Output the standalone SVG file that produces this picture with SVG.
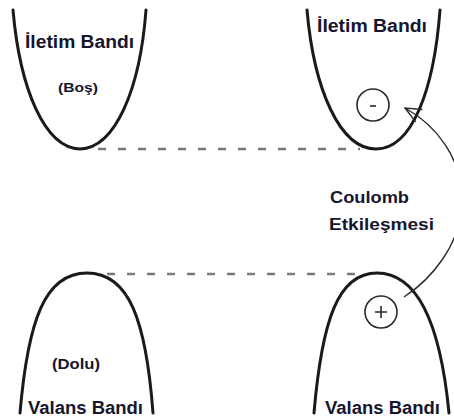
<svg xmlns="http://www.w3.org/2000/svg" width="454" height="419" viewBox="0 0 454 419">
<defs>
<style>
.band{fill:none;stroke:#1a1a1a;stroke-width:3;stroke-linecap:round}
.lvl{fill:none;stroke:#7a7a7a;stroke-width:2.5;stroke-dasharray:8 12}
.chg{fill:none;stroke:#2a2a2a;stroke-width:1.6}
.lbl{font-family:"Liberation Sans",Arial,sans-serif;font-weight:bold;fill:#16162e}
</style>
<marker id="ah" viewBox="0 0 20 20" refX="19" refY="10" markerWidth="20" markerHeight="20" markerUnits="userSpaceOnUse" orient="auto">
<path d="M3,3 L19,10 L3,17" fill="none" stroke="#2a2a2a" stroke-width="1.4"/>
</marker>
</defs>
<rect width="454" height="419" fill="#fff"/>
<g id="cb-left">
<path class="band" d="M13,10 C20,90 45,148 80,149 C115,148 140,90 146,10"/>
<text class="lbl" x="25" y="48" font-size="18" textLength="109" lengthAdjust="spacingAndGlyphs">İletim Bandı</text>
<text class="lbl" x="58" y="92" font-size="13.5" textLength="40" lengthAdjust="spacingAndGlyphs">(Boş)</text>
</g>
<g id="cb-right">
<path class="band" d="M307,10 C314,90 340,149 376,149 C412,149 434,90 440,10"/>
<text class="lbl" x="317" y="32" font-size="18" textLength="110" lengthAdjust="spacingAndGlyphs">İletim Bandı</text>
</g>
<g id="electron">
<circle class="chg" cx="373" cy="105" r="16"/>
<line x1="370" y1="106" x2="376" y2="106" stroke="#2a2a2a" stroke-width="1.6"/>
</g>
<g id="vb-left">
<path class="band" d="M20,413 C28,320 45,273 87,273 C129,273 146,320 153,413"/>
<text class="lbl" x="52" y="369" font-size="14.5" textLength="48" lengthAdjust="spacingAndGlyphs">(Dolu)</text>
<text class="lbl" x="28" y="414" font-size="18" textLength="115" lengthAdjust="spacingAndGlyphs">Valans Bandı</text>
</g>
<g id="vb-right">
<path class="band" d="M314,413 C322,320 338,273 377,273 C416,273 440,320 449,413"/>
<text class="lbl" x="325" y="414" font-size="18" textLength="115" lengthAdjust="spacingAndGlyphs">Valans Bandı</text>
</g>
<g id="hole">
<circle class="chg" cx="381" cy="312" r="16"/>
<path d="M375,312 H387 M381,306 V318" stroke="#2a2a2a" stroke-width="1.6" fill="none"/>
</g>
<g id="coulomb-label">
<text class="lbl" x="330" y="203" font-size="17" textLength="79" lengthAdjust="spacingAndGlyphs">Coulomb</text>
<text class="lbl" x="329" y="230" font-size="17" textLength="105" lengthAdjust="spacingAndGlyphs">Etkileşmesi</text>
</g>
<g id="connectors">
<path class="lvl" d="M98,149 H360"/>
<path class="lvl" d="M107,274 H364"/>
<path d="M404,297 C430,280 462,245 462,200 C462,158 436,125 405,108" fill="none" stroke="#2a2a2a" stroke-width="1.4" marker-end="url(#ah)"/>
</g>
</svg>
